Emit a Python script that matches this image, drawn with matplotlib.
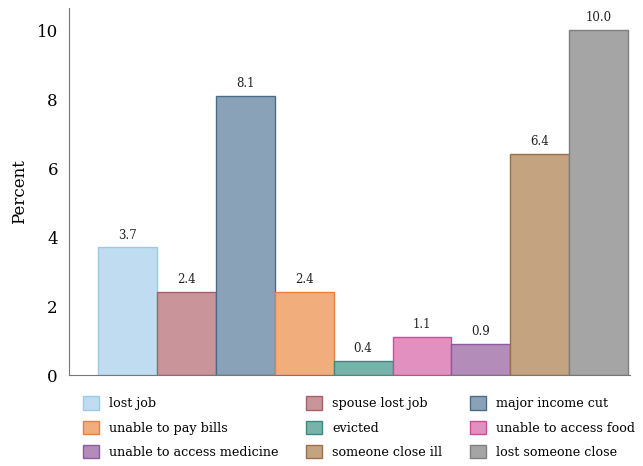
import matplotlib.pyplot as plt
import numpy as np

plt.rcParams['font.family'] = 'DejaVu Serif'

categories = ["lost job", "spouse lost job", "major income cut",
              "unable to pay bills", "evicted", "unable to access food",
              "unable to access medicine", "someone close ill", "lost someone close"]
values = [3.7, 2.4, 8.1, 2.4, 0.4, 1.1, 0.9, 6.4, 10.0]
fills = ["#bfdcf1", "#c9949a", "#8aa2b8", "#f2ad7d", "#78b3aa",
         "#e290c0", "#b48cba", "#c3a380", "#a5a5a5"]
edges = ["#9ccbea", "#a85f6a", "#4b6b8b", "#ec7f3c", "#3b8a7f",
         "#d24b98", "#8d5aa1", "#9a7049", "#7f7f7f"]

fig = plt.figure(figsize=(6.43, 4.66), dpi=100)
ax = fig.add_axes([69 / 643, 91 / 466, 561 / 643, 367 / 466])

x = np.arange(len(values))
bars = ax.bar(x, values, width=1.0, color=fills, edgecolor=edges, linewidth=1.0)
for xi, v in zip(x, values):
    ax.text(xi, v + 0.17, f"{v:.1f}", ha='center', va='bottom', fontsize=8.5, color='#222222')

ax.set_xlim(-0.99, 8.53)
ax.set_ylim(0, 10.64)
ax.set_yticks([0, 2, 4, 6, 8, 10])
ax.set_xticks([])
ax.tick_params(axis='y', length=0, labelsize=12, pad=8)
for s in ['top', 'right']:
    ax.spines[s].set_visible(False)
for s in ['left', 'bottom']:
    ax.spines[s].set_color('#777777')
ax.set_ylabel("Percent", fontsize=12, labelpad=6)

# legend fills row-wise in the reference, matplotlib fills column-wise
order = [0, 3, 6, 1, 4, 7, 2, 5, 8]
handles = [bars[i] for i in order]
labels = [categories[i] for i in order]
fig.legend(handles, labels, ncol=3, loc='upper left', bbox_to_anchor=(0.111, 0.174),
           frameon=False, fontsize=9.2, handlelength=1.25, handleheight=1.25,
           handletextpad=0.8, columnspacing=2.15, labelspacing=0.8)

fig.savefig("out.png", dpi=100)
